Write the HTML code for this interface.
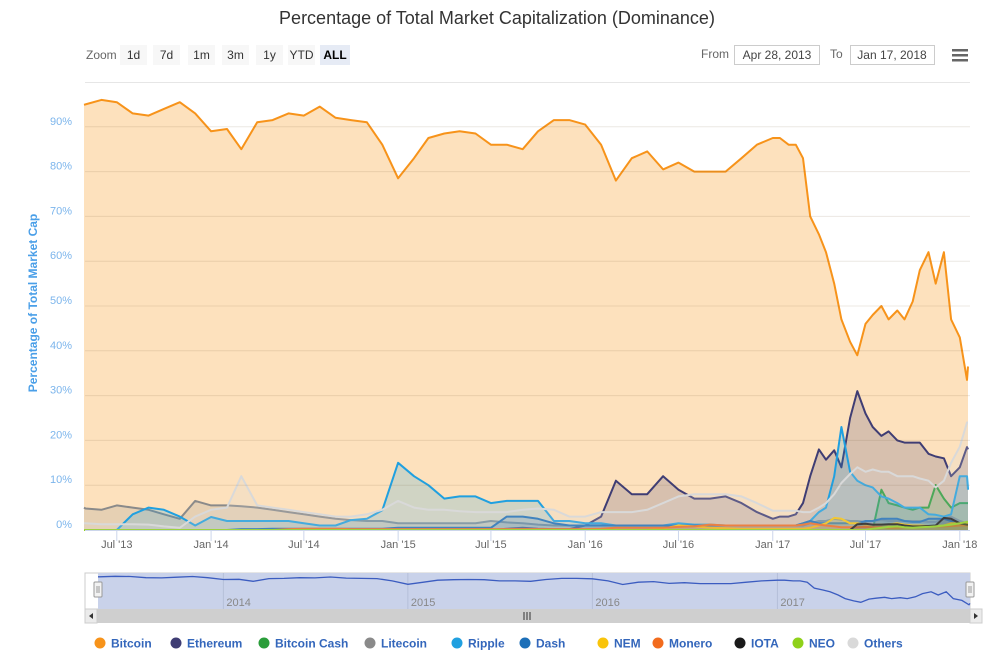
<!DOCTYPE html>
<html><head><meta charset="utf-8"><style>
body{margin:0;background:#fff;font-family:"Liberation Sans",sans-serif;}
svg{display:block}
</style></head><body>
<svg id="chart" width="985" height="656" viewBox="0 0 985 656" xmlns="http://www.w3.org/2000/svg" font-family="Liberation Sans, sans-serif">
<rect x="0" y="0" width="985" height="656" fill="#fff"/>
<text x="497" y="24" text-anchor="middle" font-size="18" fill="#333">Percentage of Total Market Capitalization (Dominance)</text>
<g font-size="12">
<text x="86" y="59" fill="#666">Zoom</text>
<g><rect x="120" y="45" width="27" height="20" fill="#f7f7f7"/><text x="133.5" y="59" text-anchor="middle" fill="#333">1d</text></g>
<g><rect x="153" y="45" width="27" height="20" fill="#f7f7f7"/><text x="166.5" y="59" text-anchor="middle" fill="#333">7d</text></g>
<g><rect x="188" y="45" width="27" height="20" fill="#f7f7f7"/><text x="201.5" y="59" text-anchor="middle" fill="#333">1m</text></g>
<g><rect x="222" y="45" width="27" height="20" fill="#f7f7f7"/><text x="235.5" y="59" text-anchor="middle" fill="#333">3m</text></g>
<g><rect x="256" y="45" width="27" height="20" fill="#f7f7f7"/><text x="269.5" y="59" text-anchor="middle" fill="#333">1y</text></g>
<g><rect x="288" y="45" width="27" height="20" fill="#f7f7f7"/><text x="301.5" y="59" text-anchor="middle" fill="#333">YTD</text></g>
<g><rect x="320" y="45" width="30" height="20" fill="#e6ebf5"/><text x="335" y="59" text-anchor="middle" fill="#000" font-weight="bold">ALL</text></g>
<text x="701" y="58" fill="#666">From</text>
<g><rect x="734.5" y="45.5" width="85" height="19" fill="#fff" stroke="#ccc"/><text x="777" y="59" text-anchor="middle" fill="#444">Apr 28, 2013</text></g>
<text x="830" y="58" fill="#666">To</text>
<g><rect x="850.5" y="45.5" width="84" height="19" fill="#fff" stroke="#ccc"/><text x="892" y="59" text-anchor="middle" fill="#444">Jan 17, 2018</text></g>
<g><rect x="952" y="49" width="16" height="2.5" fill="#666"/><rect x="952" y="54" width="16" height="2.5" fill="#666"/><rect x="952" y="59" width="16" height="2.5" fill="#666"/></g>
</g>
<text transform="translate(37,303) rotate(-90)" text-anchor="middle" font-size="12" font-weight="bold" fill="#4a9fe8">Percentage of Total Market Cap</text>
<line x1="85" y1="82.5" x2="970" y2="82.5" stroke="#e6e6e6"/>
<g id="series"></g>
<g id="grid"></g>
<g id="yaxis" font-size="11" fill="#7cb5ec"></g>
<g id="xaxis" font-size="11" fill="#666"></g>
<g id="nav"></g>
<g id="legend" font-size="12" font-weight="bold"></g>
</svg>
<script>
const dates = ["2013-04-28",
"2013-05-01","2013-06-01","2013-07-01","2013-08-01","2013-09-01","2013-10-01","2013-11-01","2013-12-01",
"2014-01-01","2014-02-01","2014-03-01","2014-04-01","2014-05-01","2014-06-01","2014-07-01","2014-08-01","2014-09-01","2014-10-01","2014-11-01","2014-12-01",
"2015-01-01","2015-02-01","2015-03-01","2015-04-01","2015-05-01","2015-06-01","2015-07-01","2015-08-01","2015-09-01","2015-10-01","2015-11-01","2015-12-01",
"2016-01-01","2016-02-01","2016-03-01","2016-04-01","2016-05-01","2016-06-01","2016-07-01","2016-08-01","2016-09-01","2016-10-01","2016-11-01","2016-12-01",
"2017-01-01","2017-01-15","2017-02-01","2017-02-15","2017-03-01","2017-03-15","2017-04-01","2017-04-15","2017-05-01","2017-05-15","2017-06-01","2017-06-15","2017-07-01","2017-07-15","2017-08-01","2017-08-15","2017-09-01","2017-09-15","2017-10-01","2017-10-15","2017-11-01","2017-11-15","2017-12-01","2017-12-15","2018-01-01","2018-01-15",
"2018-01-17"];
const bitcoin = [94.9,
95,96,95.5,93,92.5,94,95.5,93,
89,89.5,85,91,91.5,93,92.5,94.5,92,91.5,91,86,
78.5,83,87.5,88.5,89,88.5,86,86,85,89,91.5,91.5,
90.5,86,78,83,84.5,80.5,82,80,80,80,83,86,
87.5,87.5,86,86,83,70,66,62,55,47,42,39,46,48,50,47,49,47,51,58,62,55,62,47,43,33.5,
36.5];
const ethereum = [0,
0,0,0,0,0,0,0,0,
0,0,0,0,0,0,0,0,0,0,0,0,
0,0,0,0,0,0,0,0.3,0.5,0.3,0.2,0.2,
1,3,11,8,8,12,9,7,7,7.5,6,4,
2.5,3,3,3.5,6,12,18,15.7,17.8,14,25,31,26,23,21,22,20,19.5,19.5,19.5,17,16.4,16,12,14,18.5,
18];
const bitcoinCash = [0,
0,0,0,0,0,0,0,0,
0,0,0,0,0,0,0,0,0,0,0,0,
0,0,0,0,0,0,0,0,0,0,0,0,
0,0,0,0,0,0,0,0,0,0,0,0,
0,0,0,0,0,0,0,0,0,0,0,0,0,0,9,6,5.5,5,4.5,5,5,10,7,5,6,6,
6];
const litecoin = [5,
4.8,4.5,5.5,5,4.5,3.5,2.5,6.5,
5.5,5.5,5.3,5,4.5,4,3.5,3,2.5,2.2,2,2,
1.5,1.5,1.5,1.5,1.5,1.5,2,1.7,1.5,1.2,1,1,
1,1,1,1,1,1,1,1,1,1,1,1,
1,1,1,1,1,1.5,2,2,2.5,2.3,2,2,1.8,2,2.2,2,2,2,2,2,1.8,1.8,2.5,3,2,1.5,
1.5];
const ripple = [0,
0,0,0,3.5,5,4.5,3,1,
2.9,2,2,2,2,2,1.5,1,1,2.2,2.5,4.4,
15,12,10,7,7.5,7.5,6,6.5,6.5,6.5,2,2,
1.5,1.5,1,1,1,1,1.5,1.2,1.2,1,1,1,
1,1,1,1,1.5,2,4,5,12,23,13,11,10,9.5,7.5,7,6,5,5,5,3.5,3.4,3,3.5,12,12,
9];
const dash = [0,
0,0,0,0,0,0,0,0,
0,0,0.2,0.2,0.3,0.3,0.3,0.3,0.3,0.3,0.3,0.3,
0.5,0.5,0.5,0.5,0.5,0.5,0.5,3,3,2.5,1.5,1,
1,1,1,1,1,1,1,1,1,1,1,1,
1,1,1,1,1.5,2,1.5,1.5,1.5,1.5,1.5,1.5,2,2,2.5,2.5,2.5,2,1.8,1.8,2.5,2.5,2.5,2,1.5,1.5,
1.5];
const nem = [0,
0,0,0,0,0,0,0,0,
0,0,0,0,0,0,0,0,0,0,0,0,
0,0,0,0,0,0,0,0,0,0,0,0,
0,0,0,0,0,0.3,1,0.8,0.5,0.4,0.3,0.3,
0.3,0.3,0.3,0.3,0.3,0.5,1,1.5,2.7,2.5,1.5,1.5,1.2,1.2,1.2,1.2,1.5,1.2,1,1,0.9,0.9,1,1.5,1.5,1.5,
1.5];
const monero = [0,
0,0,0,0,0,0,0,0,
0,0,0,0,0,0.2,0.3,0.3,0.3,0.2,0.2,0.2,
0.2,0.2,0.2,0.2,0.2,0.2,0.2,0.2,0.2,0.2,0.2,0.2,
0.2,0.3,0.5,0.5,0.5,0.5,0.7,0.8,1.2,1,1,1,
1,1,1,1,1.2,1.5,1.2,1,0.8,0.6,0.6,0.6,0.7,0.6,0.6,0.5,0.5,0.6,0.6,0.7,0.8,0.8,0.8,0.9,1,1,
1];
const iota = [0,
0,0,0,0,0,0,0,0,
0,0,0,0,0,0,0,0,0,0,0,0,
0,0,0,0,0,0,0,0,0,0,0,0,
0,0,0,0,0,0,0,0,0,0,0,0,
0,0,0,0,0,0,0,0,0,0,0,1.3,1.4,1.2,1.2,1.3,1.3,1,0.8,0.8,0.9,1,2.7,2.5,1.5,1.2,
1.2];
const neo = [0,
0,0,0,0,0,0,0,0,
0,0,0,0,0,0,0,0,0,0,0,0,
0,0,0,0,0,0,0,0,0,0,0,0,
0,0,0,0,0,0,0,0,0,0,0,0,
0,0,0,0,0,0,0,0,0,0,0,0,0,0.3,0.5,0.7,0.8,0.6,0.5,0.6,0.7,0.8,1,1.2,1.5,1.8,
1.8];
const others = [1.5,
1.5,1.3,1.3,1.3,1.2,0.8,0.5,3,
4.5,5,12,5.5,5,4.5,4,3.5,3,3,3.5,4.5,
6.5,5,4.5,4.5,4.2,4,4,4,4.5,4.8,4.5,3,
3,4,4,4,4.5,6,7.5,8,8,8,7.5,6,
4.3,4.3,4.3,4.3,4,4,5,6,8,10.5,12.5,14,13,13.5,13,13,12,12,12,11.5,11,9.5,11,15,18.6,24,
24];
const seriesNames = ["Bitcoin","Ethereum","Bitcoin Cash","Litecoin","Ripple","Dash","NEM","Monero","IOTA","NEO","Others"];
const seriesValues = [bitcoin,ethereum,bitcoinCash,litecoin,ripple,dash,nem,monero,iota,neo,others];
const yTicks = [0,10,20,30,40,50,60,70,80,90];
const xTickDates = ["2013-07-01","2014-01-01","2014-07-01","2015-01-01","2015-07-01","2016-01-01","2016-07-01","2017-01-01","2017-07-01","2018-01-01"];
const xTickLabels = ["Jul '13","Jan '14","Jul '14","Jan '15","Jul '15","Jan '16","Jul '16","Jan '17","Jul '17","Jan '18"];
const navYears = ["2014-01-01","2015-01-01","2016-01-01","2017-01-01"];
const navYearLabels = ["2014","2015","2016","2017"];

const colors = ["#f7931a","#3f3d74","#2a9d3a","#8a8a8a","#20a0e0","#1c6fb8","#f9c40a","#f26b1d","#1a1a1a","#8fd11a","#d9d9d9"];
const NS = "http://www.w3.org/2000/svg";
function mk(tag, attrs, parent){const e=document.createElementNS(NS,tag);for(const k in attrs)e.setAttribute(k,attrs[k]);parent.appendChild(e);return e;}
const t = s => Date.UTC(+s.slice(0,4), +s.slice(5,7)-1, +s.slice(8,10));
const T0 = t(dates[0]), T1 = t(dates[dates.length-1]);
const X0 = 84, X1 = 968;
const xScale = s => X0 + (t(s)-T0)/(T1-T0)*(X1-X0);
const yScale = v => 530 - v*4.48;

const grid = document.getElementById('grid');
const yaxis = document.getElementById('yaxis');
yTicks.forEach(v=>{
  const y = yScale(v);
  if(v>0){const l=mk('line',{x1:85,x2:970,y1:y,y2:y,stroke:'rgba(120,90,60,0.14)'},grid);
  
  }
  const tx=mk('text',{x:72,y:y-2+(v===0?0:0),'text-anchor':'end'},yaxis);
  tx.textContent=v+'%';
  
  
});

const sg = document.getElementById('series');
seriesValues.forEach((vals,si)=>{
  const pts = vals.map((v,i)=>[xScale(dates[i]), yScale(v)]);
  const line = pts.map((p,i)=>(i?'L':'M')+p[0].toFixed(1)+','+p[1].toFixed(1)).join('');
  const area = line+'L'+pts[pts.length-1][0].toFixed(1)+',530L'+pts[0][0].toFixed(1)+',530Z';
  const g = mk('g',{},sg);
  
  
  const a = mk('path',{d:area,fill:si===0?'#fde1bd':colors[si],'fill-opacity':si===0?1:0.2,stroke:'none'},g);
  
  
  const l = mk('path',{d:line,fill:'none',stroke:colors[si],'stroke-width':2,'stroke-linejoin':'round'},g);
  
  
});

const xaxis = document.getElementById('xaxis');
const axl = mk('line',{x1:85,x2:970,y1:530.5,y2:530.5,stroke:'#ccd6eb'},xaxis);


xTickDates.forEach((d,i)=>{
  const x = xScale(d);
  const tk = mk('line',{x1:x,x2:x,y1:531,y2:541,stroke:'#ccd6eb'},xaxis);
  
  
  const tx = mk('text',{x:x,y:548,'text-anchor':'middle'},xaxis);
  tx.textContent = xTickLabels[i];
  
  
});

// navigator
const nav = document.getElementById('nav');
const NX0=98, NX1=970;
const nx = s => NX0 + (t(s)-T0)/(T1-T0)*(NX1-NX0);
const ny = v => 620 - v*0.455;
const nb = mk('rect',{x:85,y:573,width:885,height:36,fill:'#fff',stroke:'#cccccc'},nav);


const sel = mk('rect',{x:NX0,y:573,width:NX1-NX0,height:36,fill:'#c9d2ea'},nav);


navYears.forEach((d,i)=>{
  const x = nx(d);
  const l = mk('line',{x1:x,x2:x,y1:573,y2:609,stroke:'#b5bfd8'},nav);
  
  
  const tx = mk('text',{x:x+3,y:606,'font-size':11,fill:'#888'},nav);
  tx.textContent = navYearLabels[i];
  
  
});
const np = bitcoin.map((v,i)=>(i?'L':'M')+nx(dates[i]).toFixed(1)+','+ny(v).toFixed(1)).join('');
const nl = mk('path',{d:np,fill:'none',stroke:'#3b5cc0','stroke-width':1.3},nav);


[NX0,NX1].forEach((x,i)=>{
  const h = mk('rect',{x:x-4,y:582,width:8,height:15,fill:'#f2f2f2',stroke:'#999',rx:1},nav);
  
  
  mk('line',{x1:x-1,x2:x-1,y1:586,y2:593,stroke:'#999'},nav);
  mk('line',{x1:x+1,x2:x+1,y1:586,y2:593,stroke:'#999'},nav);
});
const sb = mk('rect',{x:85,y:609,width:885,height:14,fill:'#cfcfcf'},nav);


const lb = mk('rect',{x:85,y:609,width:12,height:14,fill:'#ebebeb',stroke:'#ccc'},nav);


const rb = mk('rect',{x:970,y:609,width:12,height:14,fill:'#ebebeb',stroke:'#ccc'},nav);


mk('path',{d:'M93,613L89,616L93,619Z',fill:'#333'},nav);
mk('path',{d:'M974,613L978,616L974,619Z',fill:'#333'},nav);
[524,527,530].forEach(x=>mk('line',{x1:x,x2:x,y1:612,y2:620,stroke:'#333'},nav));

// legend
const legend = document.getElementById('legend');
const legX = [100,176,264,370,457,525,603,658,740,798,853];
seriesNames.forEach((n,i)=>{
  const g = mk('g',{},legend);
  
  
  mk('circle',{cx:legX[i],cy:643,r:5.5,fill:colors[i]},g);
  const tx = mk('text',{x:legX[i]+11,y:647.5,fill:'#3366bb'},g);
  tx.textContent = n;
});
</script>
</body></html>
